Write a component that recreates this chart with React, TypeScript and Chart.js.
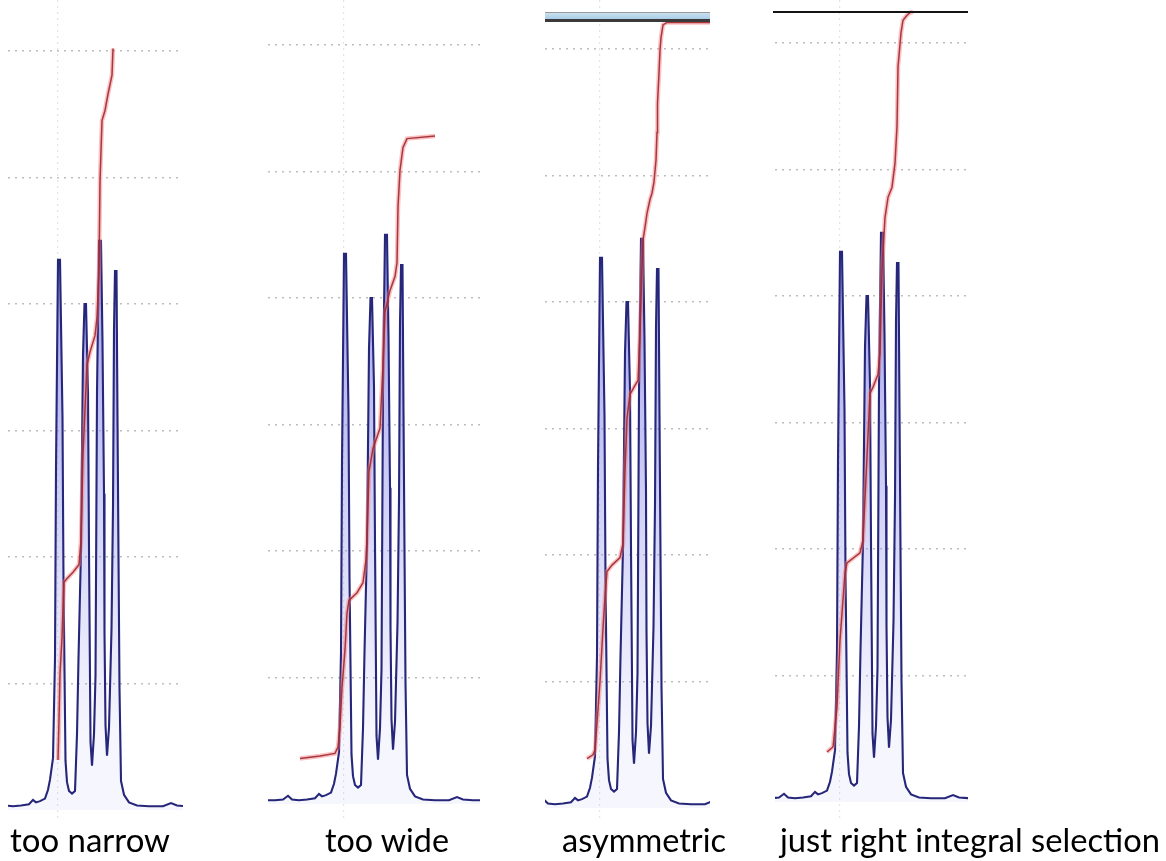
import React, { useEffect, useRef } from "react";
import { Chart, registerables } from "chart.js";

Chart.register(...registerables);

// ---- DATA ----
// Spectrum: frequency offset from the first multiplet line (Hz-like units), intensity (grid units)
const spectrumX = [
  -90, -80, -70, -62, -57, -53, -46, -38, -30, -26, -23, -19, -14, -11, -9, -6, -4, -3, -1, 1, 3.5, 4.5, 6.5, 8, 10, 13,
  16, 18, 19.5, 22, 24, 25.5, 27, 29, 30, 31.5, 33, 35, 36.5, 38, 40, 42, 43.5, 45, 45.5, 46.5, 48, 50, 52.5, 54, 55,
  56, 57.5, 58.5, 59.5, 60.5, 62, 65, 70, 78, 90, 104, 112, 118, 128, 140,
];
const spectrumY = [
  0.3, 0.3, 0.3, 0.35, 0.65, 0.35, 0.3, 0.35, 0.45, 0.8, 0.6, 0.7, 0.9, 1.6, 2.4, 4.1, 12, 27, 43.5, 43.5, 31, 18, 3.9,
  2.2, 1.5, 1.3, 1.5, 6, 12, 20.6, 36, 40, 40, 33, 20.6, 5.4, 3.5, 6, 10.6, 33, 45, 45, 37, 25, 14, 6.7, 4.3, 6.5, 14.3,
  24, 38, 42.6, 42.6, 31, 20, 9.6, 2.3, 1.2, 0.6, 0.35, 0.3, 0.3, 0.55, 0.35, 0.3, 0.3,
];

// Integral curves, one per panel
const integralNarrowX = [-1, 0, 1, 3, 4, 5, 8, 14, 20, 22, 24, 28, 31, 36, 38, 40, 41, 43, 46, 49, 53, 54];
const integralNarrowY = [3.95, 7.1, 10.8, 13.6, 16.0, 18.0, 18.3, 18.8, 19.4, 21.3, 28.1, 35.2, 36.2, 37.5, 38.9, 42.7, 49.7, 54.5, 55.3, 56.6, 58.1, 60.2];

const integralWideX = [-45, -25, -10, -7, -5, -3, 0, 2, 4, 12, 18, 21, 22, 24, 28, 35, 38, 40, 45, 50, 52, 53, 55, 58, 62, 90];
const integralWideY = [3.6, 3.8, 4.0, 4.5, 6.1, 9.2, 12.2, 15.1, 16.1, 16.7, 17.5, 19.3, 20.9, 26.3, 28.1, 29.7, 34.7, 38.9, 40.6, 41.7, 42.8, 47.2, 50.1, 51.9, 52.6, 52.8];

const integralAsymX = [-14, -8, -6, -4, -1, 2, 4, 6, 11, 19, 22, 24, 26, 29, 34, 37, 39, 41, 42, 44, 46, 49, 51, 53, 55, 56, 56.5, 58, 59, 60, 62, 66, 110];
const integralAsymY = [3.9, 4.2, 4.6, 6.7, 10.0, 14.2, 16.7, 18.7, 19.2, 19.8, 20.9, 26.6, 30.8, 32.7, 33.4, 33.8, 37.5, 42.8, 44.9, 45.9, 47.0, 48.1, 48.6, 49.5, 51.2, 53.4, 55.7, 58.1, 59.9, 60.9, 61.9, 62.1, 62.1];

const integralRightX = [-14, -8, -4, -1, 4, 6, 19, 22, 26, 29, 32, 37, 39, 41, 44, 47, 51, 54, 56, 57, 60, 62, 66, 69, 72];
const integralRightY = [3.95, 4.35, 7.5, 12.8, 18.1, 18.9, 19.7, 20.7, 27.3, 32.3, 32.8, 33.8, 35.5, 42.1, 46.2, 47.8, 48.6, 50.5, 53.4, 58.1, 60.8, 61.8, 62.2, 62.4, 62.45];

const gridValues = [10, 20, 30, 40, 50, 60];
const referenceLineX = [-1];

const panelLabels = ["too narrow", "too wide", "asymmetric", "just right integral selection"];

// ---- LAYOUT (pixels) ----
const CANVAS_H = 820;
const PX_PER_UNIT = 12.65;
const panels = [
  { left: 8, width: 175, peakPx: 59, zeroPx: 810, ix: integralNarrowX, iy: integralNarrowY },
  { left: 268, width: 212, peakPx: 345, zeroPx: 804, ix: integralWideX, iy: integralWideY },
  { left: 545, width: 165, peakPx: 601, zeroPx: 808, ix: integralAsymX, iy: integralAsymY },
  { left: 775, width: 193, peakPx: 841, zeroPx: 802, ix: integralRightX, iy: integralRightY },
];
const labelLayout = [
  { x: 10, w: 160 },
  { x: 325, w: 124 },
  { x: 562, w: 164 },
  { x: 780, w: 380 },
];

const toPoints = (xs: number[], ys: number[]) => xs.map((x, i) => ({ x, y: ys[i] }));

const peakFill = (ctx: any) => {
  const chart = ctx.chart;
  const area = chart.chartArea;
  const y = chart.scales && chart.scales.y;
  if (!area || !y) return "rgba(150,150,235,0.45)";
  const g = chart.ctx.createLinearGradient(0, y.getPixelForValue(44), 0, y.getPixelForValue(6));
  g.addColorStop(0, "rgba(135,135,230,0.8)");
  g.addColorStop(0.45, "rgba(150,150,235,0.5)");
  g.addColorStop(1, "rgba(165,165,240,0.1)");
  return g;
};

function Panel({ idx }: { idx: number }) {
  const ref = useRef<HTMLCanvasElement | null>(null);
  const p = panels[idx];
  useEffect(() => {
    if (!ref.current) return;
    const xMin = p.left - p.peakPx;
    const xMax = p.left + p.width - p.peakPx;
    const yMax = p.zeroPx / PX_PER_UNIT;
    const yMin = -(CANVAS_H - p.zeroPx) / PX_PER_UNIT;
    const integral = toPoints(p.ix, p.iy);
    const chart = new Chart(ref.current, {
      type: "line",
      data: {
        datasets: [
          {
            data: integral,
            borderColor: "rgba(160,40,50,0.9)",
            borderWidth: 1.5,
            pointRadius: 0,
            tension: 0,
            fill: false,
          },
          {
            data: integral,
            borderColor: "rgba(245,120,120,0.45)",
            borderWidth: 4.5,
            pointRadius: 0,
            tension: 0,
            fill: false,
          },
          {
            data: toPoints(spectrumX, spectrumY),
            borderColor: "#26267a",
            borderWidth: 2.1,
            backgroundColor: peakFill,
            fill: { value: 0 },
            pointRadius: 0,
            tension: 0,
          },
        ],
      },
      options: {
        animation: false,
        responsive: false,
        maintainAspectRatio: false,
        events: [],
        layout: { padding: 0 },
        plugins: { legend: { display: false }, tooltip: { enabled: false }, title: { display: false } },
        scales: {
          x: {
            type: "linear",
            min: xMin,
            max: xMax,
            ticks: { display: false },
            border: { display: false, dash: [2, 4] },
            grid: { drawTicks: false, tickLength: 0, color: "rgba(200,200,200,0.5)", lineWidth: 1.2 },
            afterBuildTicks: (s: any) => {
              s.ticks = referenceLineX.map((v) => ({ value: v }));
            },
          },
          y: {
            type: "linear",
            min: yMin,
            max: yMax,
            ticks: { display: false },
            border: { display: false, dash: [2, 5] },
            grid: { drawTicks: false, tickLength: 0, color: "#bdbdbd", lineWidth: 1.5 },
            afterBuildTicks: (s: any) => {
              s.ticks = gridValues.map((v) => ({ value: v }));
            },
          },
        },
      },
    } as any);
    return () => chart.destroy();
  }, [idx]);
  return (
    <canvas
      ref={ref}
      width={p.width}
      height={CANVAS_H}
      style={{ position: "absolute", left: p.left, top: 0, width: p.width, height: CANVAS_H }}
    />
  );
}

export default function App() {
  return (
    <div style={{ position: "absolute", left: 0, top: 0, width: 1166, height: 861, background: "#fff", overflow: "hidden" }}>
      {panels.map((_, i) => (
        <Panel key={i} idx={i} />
      ))}
      {/* window frame remnants above the 3rd and 4th panels */}
      <div style={{ position: "absolute", left: 545, top: 12, width: 165, height: 1, background: "#9a9a9a" }} />
      <div
        style={{
          position: "absolute",
          left: 545,
          top: 13,
          width: 165,
          height: 6,
          background: "linear-gradient(#c9e1f0, #a9cde6)",
        }}
      />
      <div style={{ position: "absolute", left: 545, top: 19, width: 165, height: 3, background: "#3a3a3a" }} />
      <div style={{ position: "absolute", left: 773, top: 11, width: 195, height: 2, background: "#141414" }} />
      <svg width={1166} height={861} style={{ position: "absolute", left: 0, top: 0, pointerEvents: "none" }}>
        {panelLabels.map((t, i) => (
          <text
            key={i}
            x={labelLayout[i].x}
            y={852}
            textLength={labelLayout[i].w}
            lengthAdjust="spacingAndGlyphs"
            style={{ fontFamily: "Lato, 'Open Sans', sans-serif", fontSize: 33, fill: "#000" }}
          >
            {t}
          </text>
        ))}
      </svg>
    </div>
  );
}
